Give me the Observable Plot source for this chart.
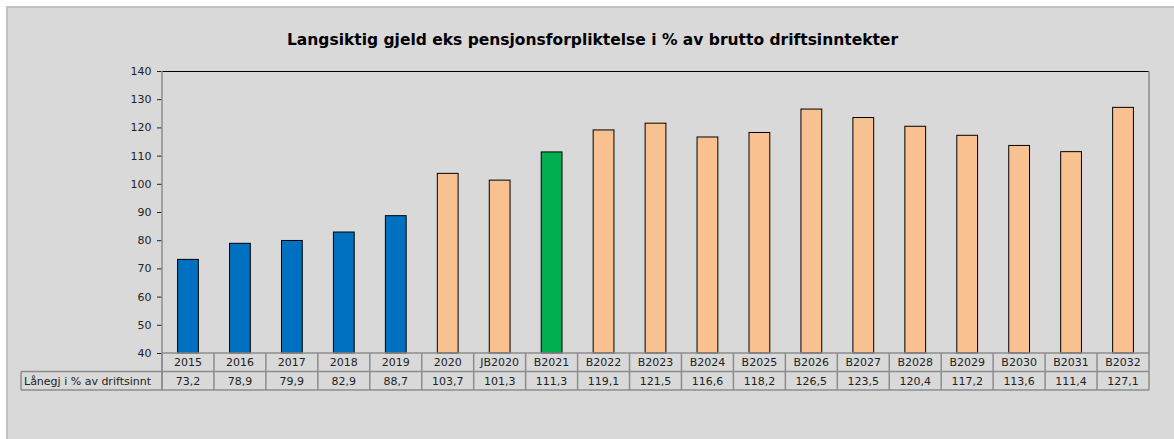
<!DOCTYPE html>
<html><head><meta charset="utf-8">
<script src="https://cdn.jsdelivr.net/npm/d3@7"></script>
<script src="https://cdn.jsdelivr.net/npm/@observablehq/plot@0.6"></script>
<style>
body{margin:0;background:#fff;font-family:"DejaVu Sans",sans-serif;}
#bg{position:absolute;left:6px;top:6px;width:1180px;height:450px;background:#d9d9d9;border-top:2px solid #c0c0c0;border-left:2px solid #c0c0c0;box-sizing:border-box;}
#chart{position:absolute;left:0;top:0;}
</style></head><body><div id="bg"></div><div id="chart"></div>
<script>
const categories = ["2015","2016","2017","2018","2019","2020","JB2020","B2021","B2022","B2023","B2024","B2025","B2026","B2027","B2028","B2029","B2030","B2031","B2032"];
const values = [73.2,78.9,79.9,82.9,88.7,103.7,101.3,111.3,119.1,121.5,116.6,118.2,126.5,123.5,120.4,117.2,113.6,111.4,127.1];
const groups = ["R","R","R","R","R","P","P","G","P","P","P","P","P","P","P","P","P","P","P"];
const groupNames = ["R","P","G"];
const groupColors = ["#0070c0","#fac190","#00b050"];
const yTicks = [40,50,60,70,80,90,100,110,120,130,140];
const title = "Langsiktig gjeld eks pensjonsforpliktelse i % av brutto driftsinntekter";
const rowHeader = "Lånegj i % av driftsinnt";

const data = categories.map((c,i)=>({cat:c, value:values[i], group:groups[i], label:values[i].toFixed(1).replace(".", ",")}));

const W = 1174, H = 439, ML = 162, MR = 25, MT = 71, MB = 86;
const PI = 0.6, PO = 0.3;

const plot = Plot.plot({
  width: W, height: H,
  marginLeft: ML, marginRight: MR, marginTop: MT, marginBottom: MB,
  style: {background: "transparent", fontFamily: "DejaVu Sans, sans-serif", fontSize: "11px", color: "#222", overflow: "visible"},
  x: {domain: categories, paddingInner: PI, paddingOuter: PO, round: false, axis: null},
  y: {domain: [40, 140], ticks: yTicks, tickSize: 5, tickPadding: 6, label: null, line: false},
  color: {domain: groupNames, range: groupColors},
  marks: [
    Plot.ruleY([140], {stroke: "#000", strokeWidth: 1.2}),
    Plot.barY(data, {x: "cat", y1: 40, y2: "value", fill: "group", stroke: "#000", strokeWidth: 1}),
    Plot.text([title], {frameAnchor: "top", dx: -63.5, dy: -38, fontSize: 15.5, fontWeight: "bold", fill: "#000"})
  ]
});
document.getElementById("chart").appendChild(plot);

// table and frame lines, positioned through the plot's scales
const xs = plot.scale("x"), ysd = plot.scale("y");
const xb = d3.scaleBand(xs.domain, xs.range).paddingInner(PI).paddingOuter(PO).align(0.5);
const yl = d3.scaleLinear(ysd.domain, ysd.range);
const step = xb.step(), gap = step - xb.bandwidth();
const left = xs.range[0], right = xs.range[1];
const yBase = yl(40), yTop = yl(140);
const rowH = 18.5;
const svg = d3.select(plot);
const g = svg.append("g").attr("stroke", "#8c8c8c").attr("stroke-width", 1.5).attr("fill", "none");
g.append("line").attr("x1", left).attr("x2", left).attr("y1", yTop).attr("y2", yBase + 2*rowH);
g.append("line").attr("x1", right).attr("x2", right).attr("y1", yTop).attr("y2", yBase + 2*rowH);
[0, 1, 2].forEach(k => g.append("line").attr("x1", k===2 ? 21 : left).attr("x2", right).attr("y1", yBase + k*rowH).attr("y2", yBase + k*rowH));
g.append("line").attr("x1", 21).attr("x2", left).attr("y1", yBase + rowH).attr("y2", yBase + rowH);
g.append("line").attr("x1", 21).attr("x2", 21).attr("y1", yBase + rowH).attr("y2", yBase + 2*rowH);
categories.forEach(c => {
  const x0 = xb(c) - gap/2;
  g.append("line").attr("x1", x0).attr("x2", x0).attr("y1", yBase).attr("y2", yBase + 2*rowH);
});
const tg = svg.append("g").attr("font-family", "DejaVu Sans, sans-serif").attr("font-size", 11).attr("fill", "#222").attr("text-anchor", "middle");
data.forEach(d => {
  const cx = xb(d.cat) + xb.bandwidth()/2;
  tg.append("text").attr("x", cx).attr("y", yBase + rowH/2).attr("dy", "0.35em").text(d.cat);
  tg.append("text").attr("x", cx).attr("y", yBase + rowH*1.5).attr("dy", "0.35em").text(d.label);
});
tg.append("text").attr("x", 24).attr("y", yBase + rowH*1.5).attr("dy", "0.35em").attr("text-anchor", "start").text(rowHeader);
</script></body></html>
